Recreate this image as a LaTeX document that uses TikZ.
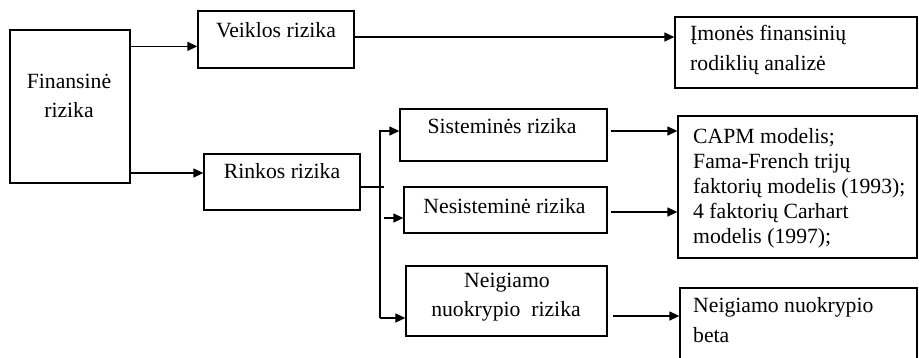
\documentclass[tikz,border=0pt]{standalone}
\usepackage{fontspec}
\setmainfont{Liberation Serif}
\usetikzlibrary{arrows.meta,calc}
\tikzset{
  box/.style={draw, line width=1.3pt, inner sep=0pt},
  conn/.style={line width=1.3pt},
  arr/.style={line width=1.3pt, -{Triangle[length=10pt,width=9pt]}},
  lbl/.style={inner sep=0pt, anchor=base, font=\fontsize{21.7}{24}\selectfont},
  lbll/.style={inner sep=0pt, anchor=base west, font=\fontsize{21.7}{24}\selectfont}
}
\begin{document}
\begin{tikzpicture}[x=1pt,y=-1pt]
\clip (0,0) rectangle (919,357);
\fill[white] (0,0) rectangle (919,357);
% boxes
\node[box, minimum width=120pt, minimum height=153pt] (fin) at (70,106.5) {};
\node[box, minimum width=156pt, minimum height=57pt] (veik) at (276,39.5) {};
\node[box, minimum width=242pt, minimum height=71pt] (imon) at (796,52.5) {};
\node[box, minimum width=156pt, minimum height=56pt] (rink) at (282,182) {};
\node[box, minimum width=207pt, minimum height=52pt] (sist) at (503.5,135) {};
\node[box, minimum width=203pt, minimum height=46pt] (nesis) at (505.5,210) {};
\node[box, minimum width=201pt, minimum height=70pt] (neig) at (506.5,301) {};
\node[box, minimum width=239pt, minimum height=142pt] (capm) at (797.5,187) {};
\node[box, minimum width=237pt, minimum height=84pt] (beta) at (798.5,330) {};
% texts
\node[lbl] (tfin1) at (69,88) {Finansinė};
\node[lbl] (tfin2) at (69,117) {rizika};
\node[lbl] (tveik) at (276,37) {Veiklos rizika};
\node[lbll] (timon1) at (690,40) {Įmonės finansinių};
\node[lbll] (timon2) at (690,70) {rodiklių analizė};
\node[lbl] (trink) at (282,178) {Rinkos rizika};
\node[lbl] (tsist) at (502,133) {Sisteminės rizika};
\node[lbl] (tnesis) at (504.5,213) {Nesisteminė rizika};
\node[lbl] (tneig1) at (507,287) {Neigiamo};
\node[lbl] (tneig2) at (506,316) {nuokrypio\ \ rizika};
\node[lbll] (tcapm1) at (693,143) {CAPM modelis;};
\node[lbll] (tcapm2) at (693,168) {Fama-French trijų};
\node[lbll] (tcapm3) at (693,193) {faktorių modelis (1993);};
\node[lbll] (tcapm4) at (693,218) {4 faktorių Carhart};
\node[lbll] (tcapm5) at (693,243) {modelis (1997);};
\node[lbll] (tbeta1) at (693,312) {Neigiamo nuokrypio};
\node[lbll] (tbeta2) at (693,342) {beta};
% connectors
\coordinate (ttop) at (380,131);
\coordinate (tbot) at (380,318);
\coordinate (nst) at (384,218);
\draw[arr] ([yshift=-17pt]fin.north east) -- ([yshift=-17pt]fin.north east -| veik.west);
\draw[arr] ([yshift=2.5pt]veik.east) -- ([yshift=2.5pt]veik.east -| imon.west);
\draw[arr] ([yshift=9pt]rink.west -| fin.east) -- ([yshift=9pt]rink.west);
\draw[conn] ([yshift=-5pt]rink.east) -- ++(23,0);
\draw[arr] (tbot) -- (ttop) -- (ttop -| sist.west);
\draw[arr] (tbot) -- (tbot -| neig.west);
\draw[arr] (nst) -- (nst -| nesis.west);
\draw[arr] ([xshift=3pt,yshift=4pt]sist.east) -- ([yshift=4pt]sist.east -| capm.west);
\draw[arr] ([xshift=3pt,yshift=-2pt]nesis.east) -- ([yshift=-2pt]nesis.east -| capm.west);
\draw[arr] ([xshift=5pt,yshift=-15pt]neig.east) -- ([yshift=-15pt]neig.east -| beta.west);
\end{tikzpicture}
\end{document}
